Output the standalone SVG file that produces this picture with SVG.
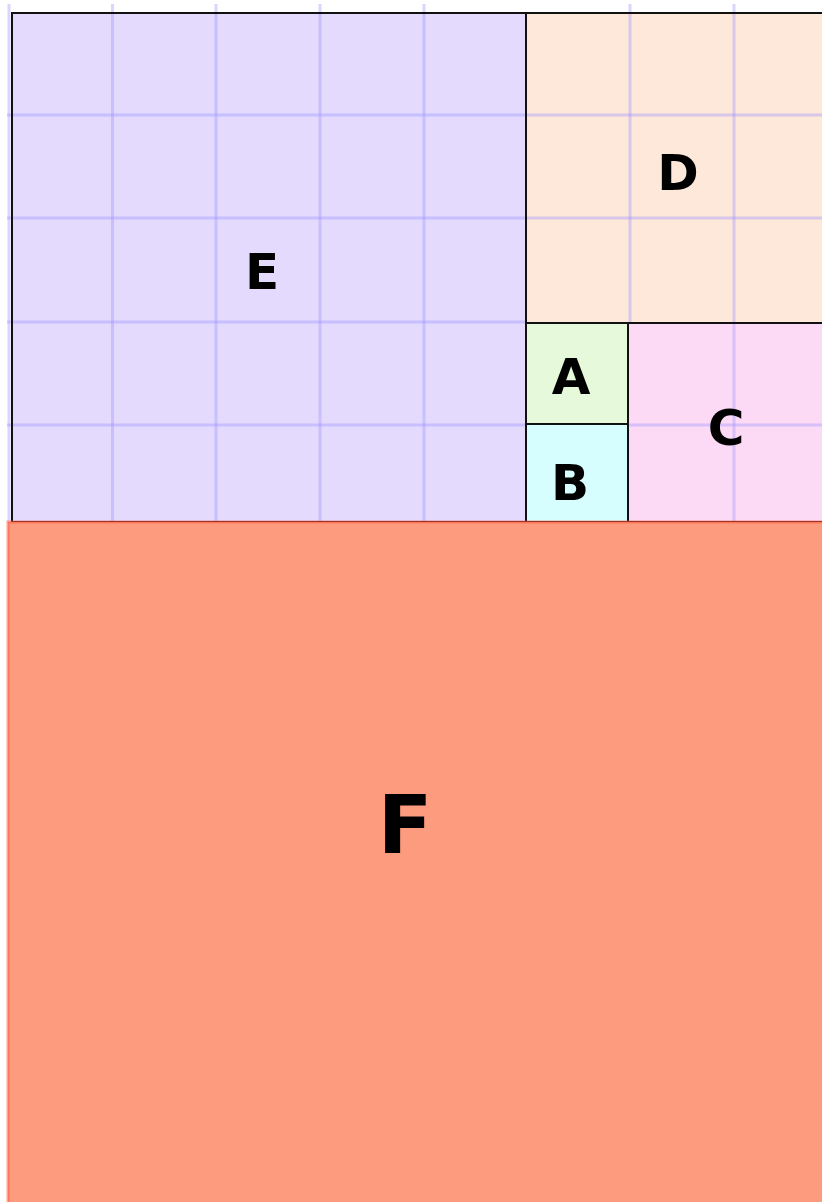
<svg xmlns="http://www.w3.org/2000/svg" width="822" height="1202" viewBox="0 0 822 1202">
<style>
.grid line{stroke:#9f96ff;stroke-opacity:0.4;stroke-width:3}
.edge{fill:none;stroke:#111;stroke-width:2}
.lbl{font-family:"Comic Sans MS","DejaVu Sans",sans-serif;font-size:50px;font-weight:bold;fill:#000;text-anchor:middle;dominant-baseline:central}
</style>
<rect width="822" height="1202" fill="#fff"/>
<g id="E"><rect x="12" y="13" width="514" height="509" fill="#e3dafe"/></g>
<g id="D"><rect x="526" y="13" width="300" height="310" fill="#fde8da"/></g>
<g id="A"><rect x="526" y="323" width="102" height="101" fill="#e6fadb"/></g>
<g id="B"><rect x="526" y="424" width="102" height="98" fill="#d6fefe"/></g>
<g id="C"><rect x="628" y="323" width="198" height="199" fill="#fcdaf5"/></g>
<g class="grid">
<line x1="9" y1="4" x2="9" y2="522"/>
<line x1="112.5" y1="4" x2="112.5" y2="522"/>
<line x1="216" y1="4" x2="216" y2="522"/>
<line x1="320" y1="4" x2="320" y2="522"/>
<line x1="424" y1="4" x2="424" y2="522"/>
<line x1="630" y1="4" x2="630" y2="323"/>
<line x1="734" y1="4" x2="734" y2="522"/>
<line x1="7" y1="115" x2="822" y2="115"/>
<line x1="7" y1="218" x2="822" y2="218"/>
<line x1="7" y1="322" x2="526" y2="322"/>
<line x1="7" y1="425" x2="526" y2="425"/>
<line x1="628" y1="425" x2="822" y2="425"/>
</g>
<g id="borders">
<rect class="edge" x="12" y="13" width="514" height="509"/>
<rect class="edge" x="526" y="13" width="300" height="310"/>
<rect class="edge" x="526" y="323" width="102" height="101"/>
<rect class="edge" x="526" y="424" width="102" height="98"/>
<rect class="edge" x="628" y="323" width="198" height="199"/>
</g>
<g id="labels">
<text class="lbl" x="262" y="272">E</text>
<text class="lbl" x="678" y="173">D</text>
<text class="lbl" x="571" y="377">A</text>
<text class="lbl" x="570" y="483">B</text>
<text class="lbl" x="726" y="428">C</text>
</g>
<g id="F"><rect x="8" y="522" width="820" height="690" fill="#fc9b7e" stroke="#ff5a3c" stroke-opacity="0.55" stroke-width="3"/><text class="lbl" x="405" y="825" style="font-size:80px">F</text></g>
</svg>
